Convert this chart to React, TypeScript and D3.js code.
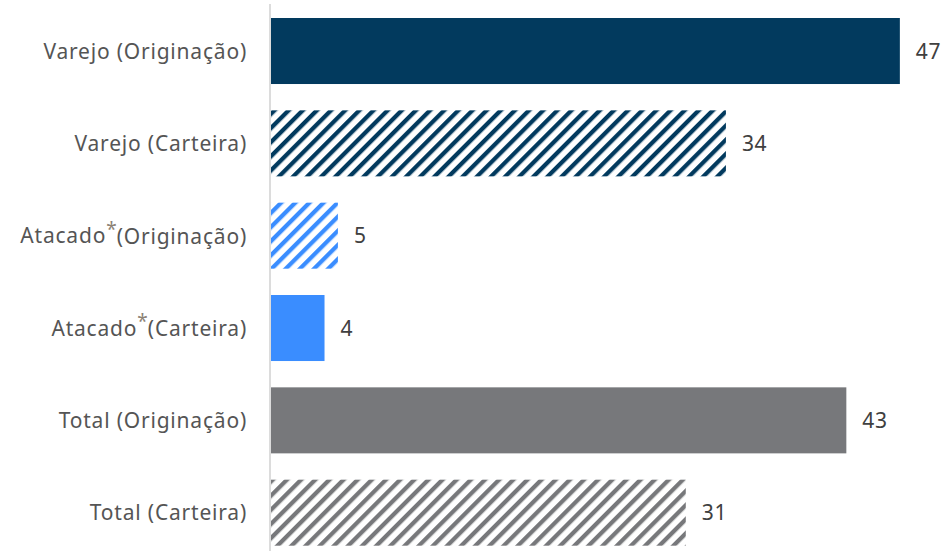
import React from "react";
import * as d3 from "d3";

const categories = [
  "Varejo (Originação)",
  "Varejo (Carteira)",
  "Atacado*(Originação)",
  "Atacado*(Carteira)",
  "Total (Originação)",
  "Total (Carteira)",
];
const values = [47, 34, 5, 4, 43, 31];
const fills = ["#023A5E", "url(#hNavy)", "url(#hBlue)", "#3A8DFF", "#77787B", "url(#hGray)"];

const W = 948;
const H = 551;

export default function App() {
  const x = d3.scaleLinear().domain([0, 50]).range([271, 271 + 669]);
  const y = d3.scaleBand<string>().domain(categories).range([18, 545.7]).paddingInner(0.285).paddingOuter(0);

  const pattern = (id: string, color: string) => (
    <pattern id={id} patternUnits="userSpaceOnUse" width={10} height={10} patternTransform="rotate(45)">
      <rect x={0} y={0} width={4.3} height={10} fill={color} />
    </pattern>
  );

  const font = "'Noto Sans', sans-serif";

  return (
    <svg width={W} height={H} style={{ position: "absolute", left: 0, top: 0, background: "#fff" }}>
      <defs>
        {pattern("hNavy", "#023A5E")}
        {pattern("hBlue", "#3A8DFF")}
        {pattern("hGray", "#77787B")}
      </defs>
      <line x1={270} x2={270} y1={4} y2={H} stroke="#DCDCDC" strokeWidth={2} />
      {categories.map((c, i) => {
        const yy = y(c)!;
        const bh = y.bandwidth();
        const parts = c.split("*");
        return (
          <g key={c}>
            <rect x={x(0)} y={yy} width={x(values[i]) - x(0)} height={bh} fill={fills[i]} />
            <text
              x={x(values[i]) + 16}
              y={yy + bh / 2}
              dy="0.36em"
              fontFamily={font}
              fontSize={21}
              letterSpacing={0.6}
              fill="#404040"
            >
              {values[i]}
            </text>
            <text
              x={247}
              y={yy + bh / 2}
              dy="0.36em"
              textAnchor="end"
              fontFamily={font}
              fontSize={21}
              letterSpacing={0.8}
              fill="#555555"
            >
              {parts.length > 1 ? (
                <>
                  {parts[0]}
                  <tspan fill="#8C8275" dy="-0.4em" fontSize={19} letterSpacing={0}>*</tspan>
                  <tspan dy="0.4em">{parts[1]}</tspan>
                </>
              ) : (
                c
              )}
            </text>
          </g>
        );
      })}
    </svg>
  );
}
